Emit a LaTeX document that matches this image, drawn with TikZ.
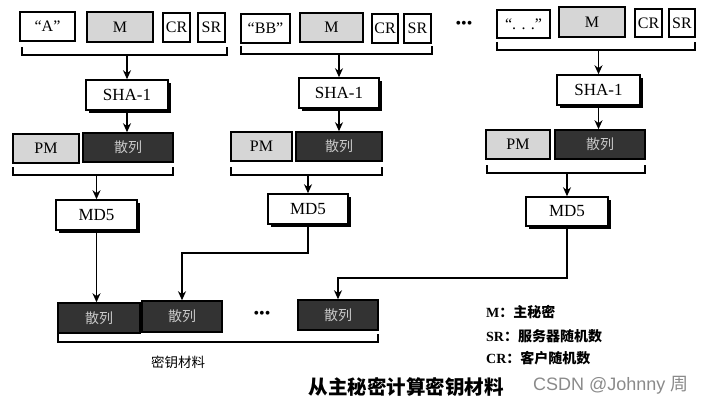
\documentclass[tikz,border=0pt]{standalone}
\usepackage{fontspec}
\setmainfont{Liberation Serif}
\newfontfamily\cjk{Noto Sans CJK SC}
\newfontfamily\wmfont{Liberation Sans}
\usetikzlibrary{arrows.meta,shadows}
\definecolor{lightg}{HTML}{D6D6D6}
\definecolor{darkg}{HTML}{333333}
\definecolor{hashtxt}{HTML}{C8C8C8}
\definecolor{wmgray}{HTML}{8A8A8A}
\tikzset{
  box/.style={draw, line width=1.5pt, inner sep=0pt, font=\fontsize{16}{16}\selectfont},
  wbox/.style={box, fill=white},
  gbox/.style={box, fill=lightg},
  dbox/.style={box, fill=darkg, text=hashtxt, font=\cjk\fontsize{14}{14}\selectfont},
  sbox/.style={box, fill=white, drop shadow={shadow xshift=3pt, shadow yshift=-3pt, fill=black, opacity=1}, font=\fontsize{17}{17}\selectfont},
  arr/.style={-{Stealth[length=9pt,width=8pt]}, line width=1.5pt},
  brk/.style={line width=1.5pt},
  dots/.style={font=\fontsize{16}{16}\selectfont, inner sep=0pt},
  legend/.style={anchor=west, inner sep=0pt, font=\bfseries\fontsize{14}{14}\selectfont},
}
\newcommand\bx[7]{\node[#2, minimum width={#5-#3}, minimum height={#6-#4}] (#1) at ({(#3+#5)/2},{(#4+#6)/2}) {#7};}
\begin{document}
\begin{tikzpicture}[x=1pt,y=-1pt]
\useasboundingbox (0,0) rectangle (706,404);
% ---- group 1
\bx{qA}{wbox}{20}{12}{75}{41}{“A”}
\bx{m1}{gbox}{87}{12}{153}{42}{M}
\bx{cr1}{wbox}{163}{13}{190}{42}{CR}
\bx{sr1}{wbox}{198}{13}{225}{42}{SR}
\draw[brk] (22,47) -- (22,55) -- (227,55) -- (227,47);
\coordinate (b1) at (127,55);
\bx{sha1}{sbox}{86}{80}{168}{110}{SHA-1}
\bx{pm1}{gbox}{13}{134}{79}{163}{PM}
\bx{h1}{dbox}{83}{133}{173}{162}{散列}
\draw[brk] (13,167) -- (13,175) -- (173,175) -- (173,167);
\coordinate (c1) at (96.5,175);
\bx{md1}{sbox}{56}{200}{137}{230}{MD5}
% ---- group 2
\bx{qB}{wbox}{241}{14}{290}{43}{“BB”}
\bx{m2}{gbox}{300}{13}{363}{42}{M}
\bx{cr2}{wbox}{372}{14}{398}{43}{CR}
\bx{sr2}{wbox}{404}{14}{431}{43}{SR}
\draw[brk] (241,46) -- (241,54) -- (432,54) -- (432,46);
\coordinate (b2) at (339,54);
\bx{sha2}{sbox}{299}{78}{379}{108}{SHA-1}
\bx{pm2}{gbox}{231}{132}{292}{161}{PM}
\bx{h2}{dbox}{296}{132}{382}{161}{散列}
\draw[brk] (231,167) -- (231,175) -- (382,175) -- (382,167);
\coordinate (c2) at (308,175);
\bx{md2}{sbox}{268}{194}{348}{224}{MD5}
% ---- group 3
\bx{qD}{wbox}{497}{10}{550}{38}{“. . .”}
\bx{m3}{gbox}{559}{7}{625}{37}{M}
\bx{cr3}{wbox}{635}{9}{662}{37}{CR}
\bx{sr3}{wbox}{669}{9}{695}{37}{SR}
\draw[brk] (497,42) -- (497,50) -- (695,50) -- (695,42);
\coordinate (b3) at (598.5,50);
\bx{sha3}{sbox}{557}{75}{640}{105}{SHA-1}
\bx{pm3}{gbox}{486}{130}{550}{159}{PM}
\bx{h3}{dbox}{555}{130}{645}{159}{散列}
\draw[brk] (487,165) -- (487,173) -- (645,173) -- (645,165);
\coordinate (c3) at (567,173);
\bx{md3}{sbox}{526}{197}{608}{226}{MD5}
% ---- outputs
\bx{o1}{dbox}{58}{303}{140}{333}{散列}
\bx{o2}{dbox}{142}{301}{222}{332}{散列}
\bx{o3}{dbox}{298}{300}{378}{330}{散列}
\draw[brk] (58,334) -- (58,342) -- (378,342) -- (378,334);
\node[font=\cjk\fontsize{13.5}{13.5}\selectfont, inner sep=0pt] (km) at (178,362) {密钥材料};
\node[dots] (d1) at (464,25) {•••};
\node[dots] (d2) at (262,315) {•••};
% ---- connectors
\draw[arr] (b1) -- (b1 |- sha1.north);
\draw[arr] (sha1.south) -- (sha1.south |- h1.north);
\draw[arr] (c1) -- (c1 |- md1.north);
\draw[arr] (md1.south) -- (md1.south |- o1.north);
\draw[arr] (b2) -- (b2 |- sha2.north);
\draw[arr] (sha2.south) -- (sha2.south |- h2.north);
\draw[arr] (c2) -- (c2 |- md2.north);
\draw[arr] (md2.south) -- ++(0,28) -| (o2.north);
\draw[arr] (b3) -- (b3 |- sha3.north);
\draw[arr] (sha3.south) -- (sha3.south |- h3.north);
\draw[arr] (c3) -- (c3 |- md3.north);
\draw[arr] (md3.south) -- ++(0,51) -| (o3.north);
% ---- legend & caption
\node[legend] (l1) at (486,312) {M{\cjk：主秘密}};
\node[legend] (l2) at (486,336) {SR{\cjk：服务器随机数}};
\node[legend] (l3) at (486,358) {CR{\cjk：客户随机数}};
\node[font=\cjk\bfseries\fontsize{19.5}{19.5}\selectfont, inner sep=0pt] (cap) at (406,387) {从主秘密计算密钥材料};
\node[font=\wmfont\fontsize{18}{18}\selectfont, text=wmgray, inner sep=0pt, anchor=west] (wm) at (533,385) {CSDN @Johnny {\cjk 周}};
\end{tikzpicture}
\end{document}
